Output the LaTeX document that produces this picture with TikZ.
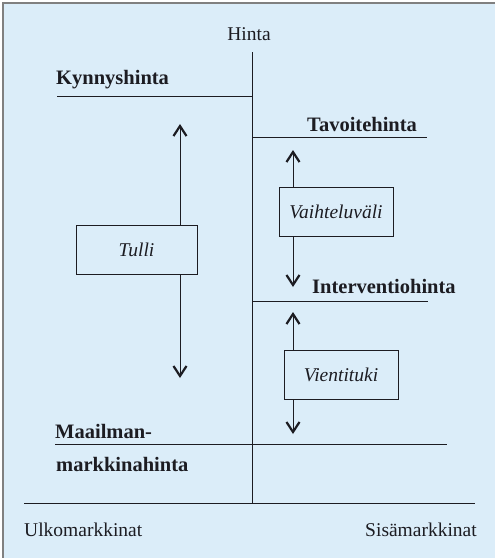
\documentclass[tikz,border=0pt]{standalone}
\usepackage{fontspec}
\setmainfont{Liberation Serif}
\usetikzlibrary{arrows.meta}
\definecolor{bgblue}{RGB}{219,237,249}
\definecolor{ink}{RGB}{28,28,34}

\begin{document}
\begin{tikzpicture}[x=1pt, y=-1pt, >={Straight Barb[length=10pt,width=13pt,line width=2.2pt]},
	every node/.style={font=\fontsize{19.5}{22}\selectfont, text=ink, inner sep=0pt},
	level/.style={ink, line width=0.8pt},
	price/.style={anchor=west, font=\fontsize{20.5}{23}\selectfont\bfseries},
	box/.style={draw=ink, line width=0.8pt, minimum width=114pt, minimum height=49pt, font=\fontsize{19.5}{22}\selectfont\itshape},
	arr/.style={->, ink, line width=0.8pt}]
	\useasboundingbox (0,0) rectangle (495,558);
	\fill[white] (0,0) rectangle (495,558);
	\fill[bgblue] (3,3) rectangle (495,558);
	\draw[gray, line width=1.2pt] (3,558) -- (3,3) -- (495,3);
	
	\node (hinta) at (249,34) {Hinta};
	\coordinate (top) at (252,52);
	\coordinate (bottom) at (252,503);
	\draw[level] (top) -- (bottom);
	
	\node[price] (kynnys) at (56,80) {Kynnyshinta};
	\coordinate (k1) at (57,96);
	\draw[level] (k1) -- (k1 -| top);
	
	\node[price] (tavoite) at (307,124) {Tavoitehinta};
	\coordinate (t2) at (427,137);
	\draw[level] (t2 -| top) -- (t2);
	
	\node[price] (interventio) at (312,286) {Interventiohinta};
	\coordinate (i2) at (428,301);
	\draw[level] (i2 -| top) -- (i2);
	
	\node[price] (maailman) at (55,431) {Maailman-};
	\node[price] (markkina) at (56,464) {markkinahinta};
	\coordinate (m1) at (55,444);
	\coordinate (m2) at (447,444);
	\draw[level] (m1) -- (m2);
	
	\coordinate (b1) at (24,503);
	\coordinate (b2) at (475,503);
	\draw[level] (b1) -- (b2);
	\node[anchor=west] (ulko) at (24,530) {Ulkomarkkinat};
	\node[anchor=east] (sisa) at (477,530) {Sisämarkkinat};
	
	\node[box, minimum width=121pt] (tulli) at (136.5,249.5) {Tulli};
	\node[box] (vaihtelu) at (336,211.5) {Vaihteluväli};
	\node[box] (vienti) at (341,374.5) {Vientituki};
	
	\coordinate (tulliUp) at (180,124);
	\coordinate (tulliDown) at (180,378);
	\draw[arr] (tulliUp |- tulli.north) -- (tulliUp);
	\draw[arr] (tulliDown |- tulli.south) -- (tulliDown);
	
	\coordinate (vaihteluUp) at (293,150);
	\coordinate (vaihteluDown) at (293,287);
	\draw[arr] (vaihteluUp |- vaihtelu.north) -- (vaihteluUp);
	\draw[arr] (vaihteluDown |- vaihtelu.south) -- (vaihteluDown);
	
	\coordinate (vientiUp) at (293,312);
	\coordinate (vientiDown) at (293,434);
	\draw[arr] (vientiUp |- vienti.north) -- (vientiUp);
	\draw[arr] (vientiDown |- vienti.south) -- (vientiDown);
\end{tikzpicture}
\end{document}
